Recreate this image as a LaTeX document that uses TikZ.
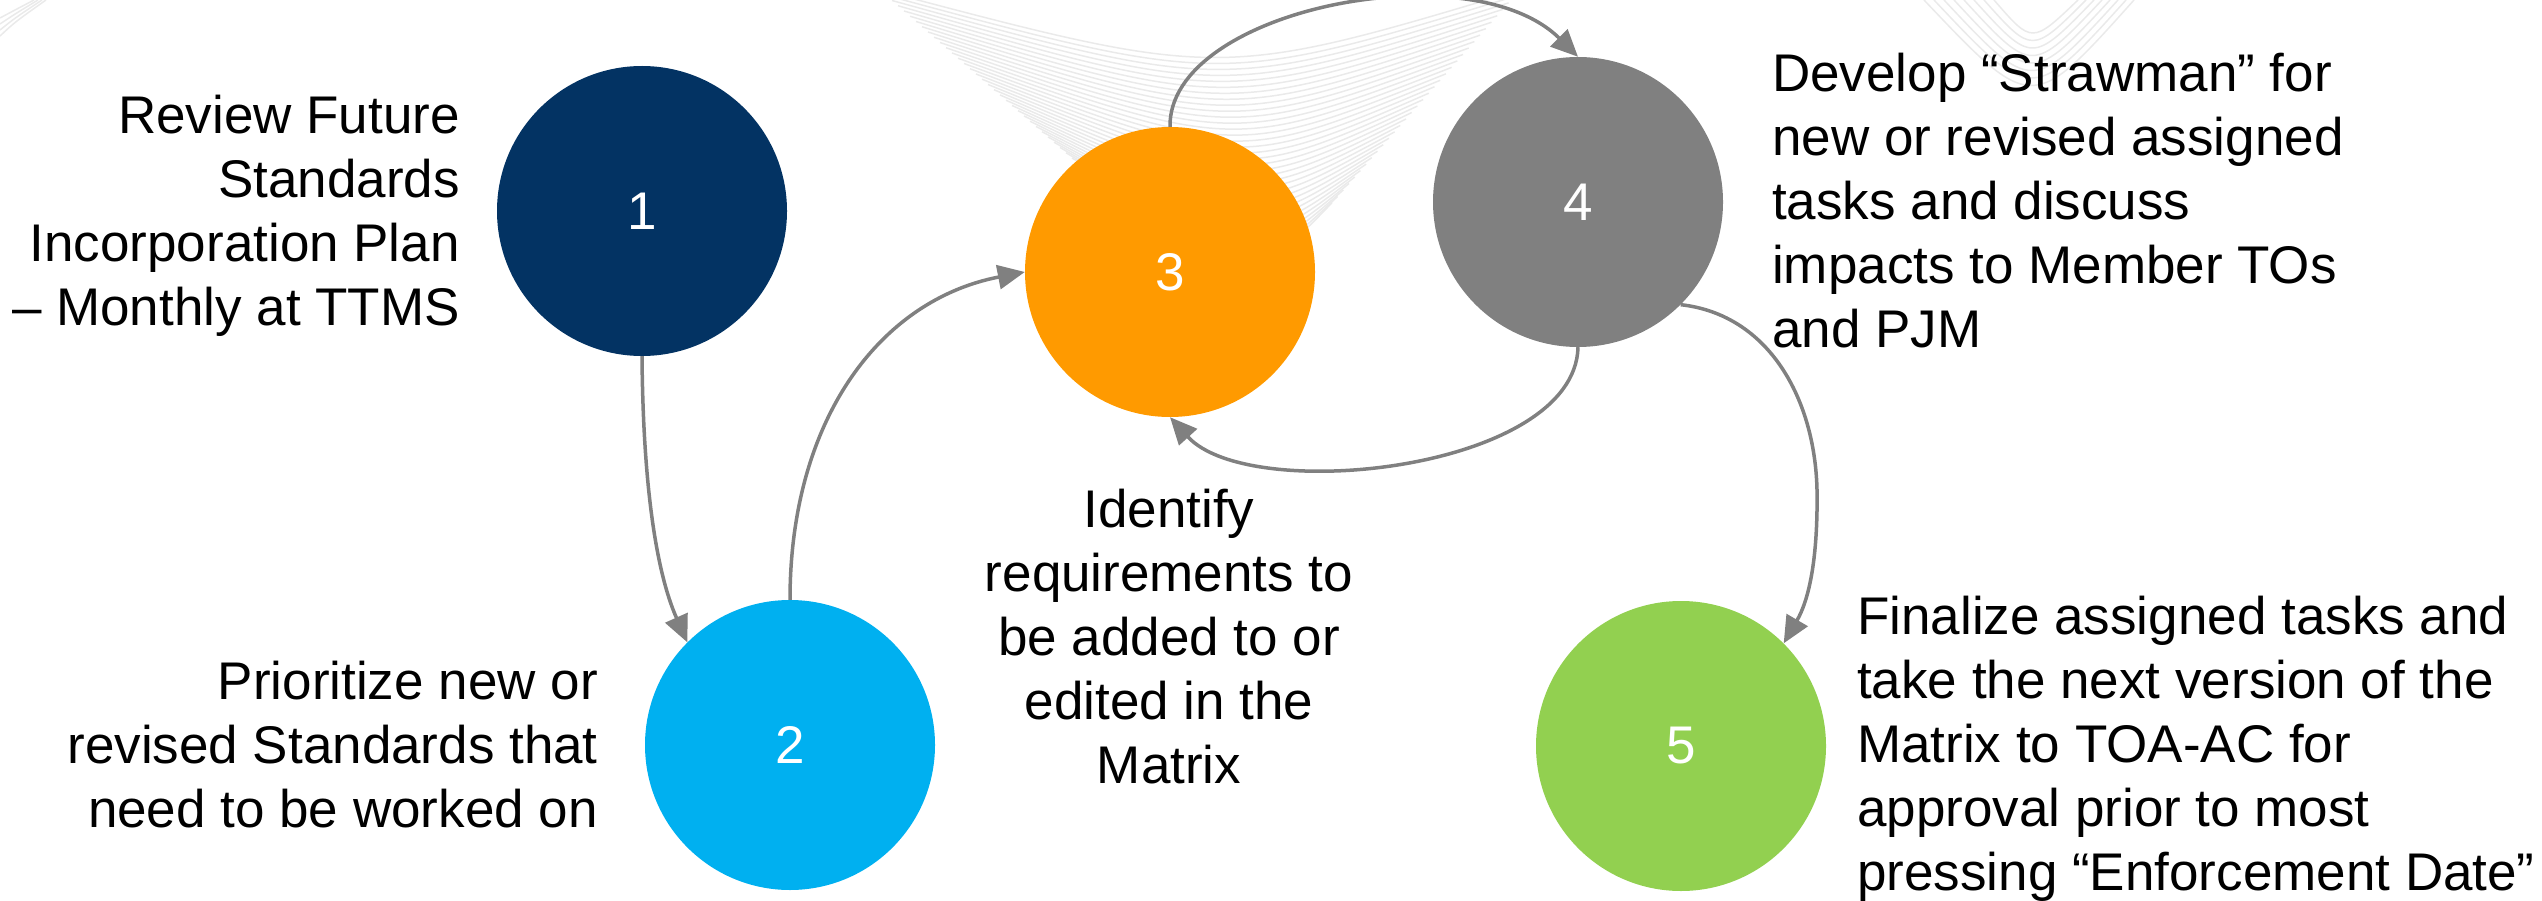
\documentclass[tikz,border=0pt]{standalone}
\usepackage{fontspec}
\setmainfont{Liberation Sans}
\usetikzlibrary{arrows.meta}
\definecolor{cnavy}{HTML}{033363}
\definecolor{ccyan}{HTML}{00B0F0}
\definecolor{corange}{HTML}{FF9A00}
\definecolor{cgray}{HTML}{808080}
\definecolor{cgreen}{HTML}{92D050}
\definecolor{arrowgray}{HTML}{808080}
\definecolor{bgline}{HTML}{EAEAEA}
\tikzset{
  stepcircle/.style={circle, minimum size=290pt, inner sep=0pt, draw=none, text=white,
    font=\fontsize{53}{64}\selectfont},
  desc/.style={inner sep=0pt, font=\fontsize{53}{64}\selectfont, text=black},
  flow/.style={draw=arrowgray, line width=3.5pt, -{Triangle[length=27pt,width=24pt]}},
  swirl/.style={draw=bgline, line width=1.5pt},
}
\begin{document}
\begin{tikzpicture}[x=1pt, y=-1pt]
\useasboundingbox (0,0) rectangle (2542,901);
% faint background pattern
\begin{scope}
\clip (0,0) rectangle (2542,901);
\foreach \t in {0,0.03,...,1.001}{
  \draw[swirl] (880+200*\t, -10+175*\t) .. controls (1220+40*\t, 80+200*\t) .. (1520-190*\t, -10+215*\t);
}
\foreach \k in {0,...,7}{
  \draw[swirl] (1924+10*\k, 0) .. controls (2032, 114-10*\k) .. (2134-8*\k, 0);
}
\foreach \k in {0,...,3}{
  \draw[swirl] (0, 18+6*\k) .. controls (15, 10+4*\k) .. (34+4*\k, 0);
}
\end{scope}
% circles
\node[stepcircle, fill=cnavy]   (c1) at (642,211) {1};
\node[stepcircle, fill=ccyan]   (c2) at (790,745) {2};
\node[stepcircle, fill=corange] (c3) at (1170,272) {3};
\node[stepcircle, fill=cgray]   (c4) at (1578,202) {4};
\node[stepcircle, fill=cgreen]  (c5) at (1681,746) {5};
% descriptions (base anchor = baseline of last line)
\node[desc, anchor=base east, align=right] (t1) at (460,325)
  {Review Future\\Standards\\Incorporation Plan\\– Monthly at TTMS};
\node[desc, anchor=base east, align=right] (t2) at (598,827)
  {Prioritize new or\\revised Standards that\\need to be worked on};
\node[desc, anchor=base, align=center] (t3) at (1169,783)
  {Identify\\requirements to\\be added to or\\edited in the\\Matrix};
\node[desc, anchor=base west, align=left] (t4) at (1772,347)
  {Develop “Strawman” for\\new or revised assigned\\tasks and discuss\\impacts to Member TOs\\and PJM};
\node[desc, anchor=base west, align=left] (t5) at (1857,890)
  {Finalize assigned tasks and\\take the next version of the\\Matrix to TOA-AC for\\approval prior to most\\pressing “Enforcement Date”};
% connectors
\coordinate (m45) at (1817,490);
\draw[flow] (c1.south) .. controls +(1,124) and +(-32,-72) .. (c2.135);
\draw[flow] (c2.north) .. controls +(0,-180) and +(-145,28) .. (c3.west);
\draw[flow] (c3.north) .. controls +(-2,-117) and +(-108,-107) .. (c4.north);
\draw[flow] (c4.south) .. controls +(-3,123) and +(80,88) .. (c3.south);
\draw[flow] (c4.-45) .. controls +(89,10) and +(-2,-90) .. (m45)
  .. controls +(1,70) and +(25,-43) .. (c5.45);
\end{tikzpicture}
\end{document}
